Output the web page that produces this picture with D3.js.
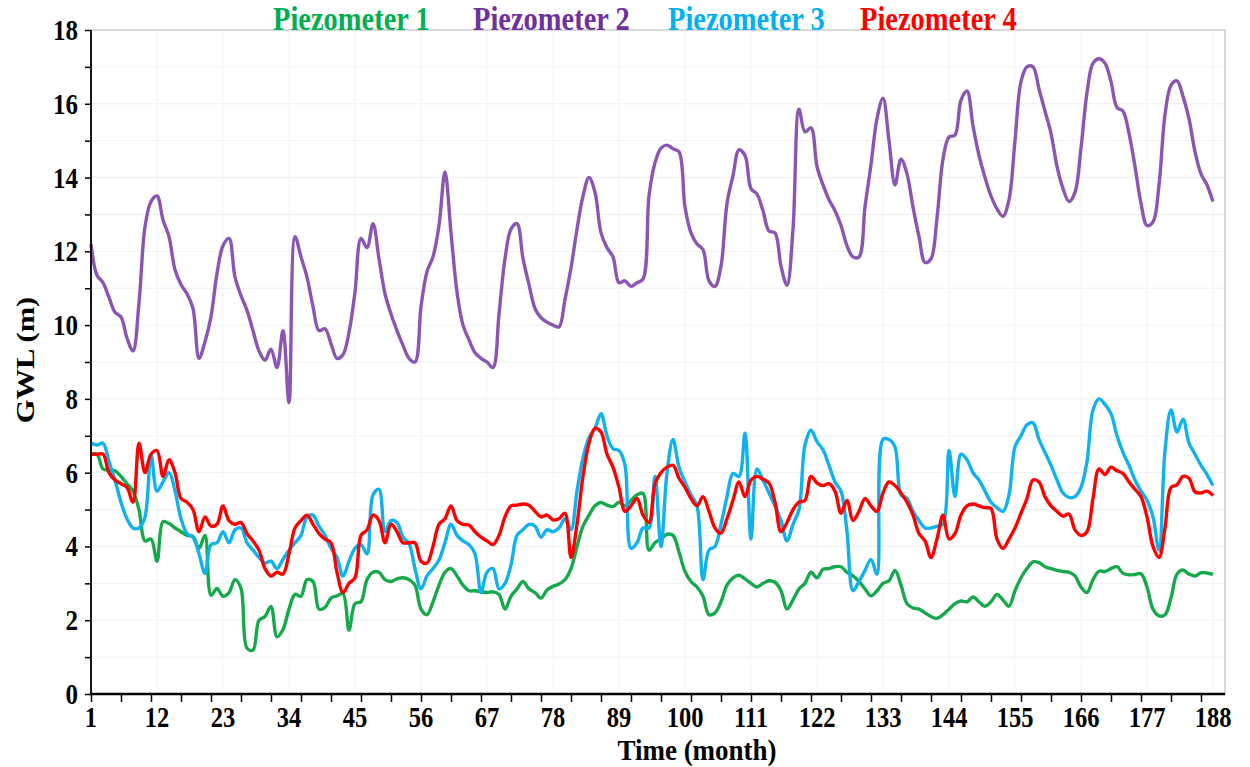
<!DOCTYPE html>
<html>
<head>
<meta charset="utf-8">
<script src="https://cdn.jsdelivr.net/npm/d3@7"></script>
<style>
  body { margin: 0; background: #fff; }
  svg { font-family: "Liberation Serif", "Times New Roman", serif; font-weight: bold; }
</style>
</head>
<body>
<svg id="drawing_region"></svg>
<script>
// months 1..188
const months = d3.range(1, 189);

const piezo1 = [
  6.5, 6.5, 6.1, 6.07, 6.05, 5.9, 5.7, 5.5, 5.0, 4.15,
  4.2, 3.6, 4.67, 4.62, 4.5, 4.4, 4.3, 4.27, 3.95, 4.3,
  2.68, 2.86, 2.65, 2.75, 3.1, 2.86, 1.24, 1.19, 2.0, 2.1,
  2.37, 1.55, 1.75, 2.3, 2.7, 2.65, 3.1, 3.05, 2.3, 2.35,
  2.6, 2.66, 2.72, 1.73, 2.45, 2.5, 3.1, 3.3, 3.3, 3.1,
  3.05, 3.12, 3.15, 3.1, 2.95, 2.3, 2.15, 2.5, 2.95, 3.3,
  3.4, 3.2, 2.95, 2.8, 2.8, 2.77, 2.75, 2.77, 2.7, 2.3,
  2.65, 2.85, 3.05, 2.85, 2.75, 2.6, 2.82, 2.92, 2.98, 3.1,
  3.4, 4.0, 4.55, 4.85, 5.1, 5.19, 5.12, 5.08, 5.2, 5.1,
  5.25, 5.4, 5.44, 3.9, 4.1, 4.2, 4.33, 4.3, 3.85, 3.32,
  3.05, 2.9, 2.65, 2.15, 2.2, 2.5, 2.95, 3.15, 3.22, 3.12,
  3.0, 2.9, 3.0, 3.07, 3.03, 2.8, 2.3, 2.55, 2.85, 3.0,
  3.3, 3.15, 3.38, 3.4, 3.45, 3.45, 3.3, 3.2, 3.05, 2.85,
  2.66, 2.8, 3.0, 3.07, 3.35, 2.95, 2.45, 2.33, 2.3, 2.2,
  2.1, 2.05, 2.15, 2.3, 2.45, 2.52, 2.5, 2.63, 2.5, 2.38,
  2.5, 2.7, 2.55, 2.38, 2.8, 3.15, 3.4, 3.58, 3.56, 3.45,
  3.4, 3.35, 3.32, 3.3, 3.2, 2.9, 2.75, 3.1, 3.33, 3.32,
  3.4, 3.45, 3.27, 3.23, 3.24, 3.26, 2.9, 2.3, 2.12, 2.15,
  2.6, 3.25, 3.36, 3.25, 3.2, 3.29, 3.28, 3.24
];

const piezo2 = [
  12.2, 11.35, 11.15, 10.75, 10.35, 10.22, 9.65, 9.3, 10.6, 12.67,
  13.35, 13.5, 12.85, 12.4, 11.5, 11.1, 10.85, 10.45, 9.1, 9.55,
  10.23, 11.4, 12.15, 12.35, 11.3, 10.8, 10.4, 9.85, 9.3, 9.05,
  9.35, 8.85, 9.85, 7.9, 12.4, 11.85, 11.3, 10.5, 9.85, 9.9,
  9.5, 9.1, 9.2, 9.8, 10.9, 12.35, 12.1, 12.75, 11.8, 10.85,
  10.3, 9.85, 9.45, 9.1, 9.0, 10.5, 11.45, 11.85, 12.7, 14.15,
  12.5, 10.9, 10.0, 9.6, 9.25, 9.1, 9.0, 8.85, 10.3, 11.8,
  12.6, 12.75, 11.8, 11.1, 10.45, 10.2, 10.08, 10.0, 9.95, 10.7,
  11.55, 12.6, 13.5, 14.0, 13.6, 12.5, 12.1, 11.85, 11.15, 11.2,
  11.05, 11.15, 11.25, 13.5, 14.4, 14.8, 14.88, 14.78, 14.7, 13.2,
  12.5, 12.2, 12.05, 11.2, 11.05, 11.6, 13.3, 14.05, 14.75, 14.6,
  13.7, 13.55, 13.1, 12.55, 12.5, 11.6, 11.08, 12.6, 15.85, 15.24,
  15.35, 14.3, 13.8, 13.4, 13.1, 12.7, 12.15, 11.85, 11.85, 13.2,
  14.35, 15.6, 16.15, 15.0, 13.8, 14.5, 14.1, 13.2, 12.4, 11.7,
  11.8, 12.9, 14.5, 15.1, 15.15, 16.1, 16.35, 15.4, 14.6, 14.0,
  13.5, 13.15, 12.95, 13.4, 15.0, 16.6, 17.0, 17.0, 16.4, 15.8,
  15.2, 14.3, 13.7, 13.35, 13.6, 14.8, 16.3, 17.1, 17.22, 17.1,
  16.6, 15.9, 15.8, 15.2, 14.3, 13.3, 12.7, 12.8, 13.8, 15.7,
  16.5, 16.62, 16.2, 15.6, 14.7, 14.1, 13.8, 13.35
];

const piezo3 = [
  6.8, 6.75, 6.8, 6.3, 5.8, 5.2, 4.75, 4.5, 4.5, 4.8,
  6.5, 5.5, 5.75, 6.0, 5.5, 4.75, 4.35, 4.25, 3.8, 3.27,
  4.05, 4.1, 4.4, 4.1, 4.45, 4.5, 4.1, 3.9, 3.7, 3.55,
  3.6, 3.4, 3.65, 3.9, 4.1, 4.3, 4.8, 4.85, 4.55, 4.3,
  3.95, 3.7, 3.2, 3.6, 3.95, 4.05, 3.8, 5.4, 5.55, 4.4,
  4.7, 4.65, 4.25, 4.08, 3.4, 2.85, 3.2, 3.4, 3.63, 4.1,
  4.6, 4.3, 4.15, 4.05, 3.8, 2.75, 3.3, 3.4, 2.85, 3.0,
  3.5, 4.3, 4.45, 4.6, 4.55, 4.25, 4.45, 4.4, 4.5, 4.75,
  4.45, 5.5, 6.4, 6.95, 7.2, 7.6, 7.0, 6.65, 6.6, 6.2,
  3.95, 4.1, 4.5, 4.5, 5.9, 4.0, 6.0, 6.9, 6.15, 5.75,
  5.4, 5.1, 3.1, 3.9, 4.0, 4.6, 5.35, 5.98, 5.9, 7.07,
  4.2, 6.1, 5.8, 5.45, 5.1, 4.7, 4.15, 4.6, 5.0, 6.75,
  7.15, 6.84, 6.62, 6.2, 5.75, 5.5, 4.4, 2.8, 3.05, 3.35,
  3.65, 3.25, 6.9, 6.9, 6.7, 5.4, 5.3, 4.95, 4.7, 4.5,
  4.5, 4.55, 4.6, 6.6, 5.35, 6.5, 6.35, 6.0, 5.8, 5.5,
  5.2, 5.05, 4.95, 5.4, 6.7, 7.0, 7.3, 7.35, 6.9, 6.55,
  6.2, 5.8, 5.45, 5.33, 5.35, 5.6, 6.3, 7.7, 8.0, 7.85,
  7.6, 7.0, 6.55, 6.2, 5.8, 5.5, 5.25, 4.8, 3.9, 6.6,
  7.7, 7.1, 7.45, 6.8, 6.5, 6.2, 5.95, 5.65
];

const piezo4 = [
  6.5, 6.5, 6.5, 6.0, 5.8, 5.7, 5.6, 5.2, 6.8, 6.0,
  6.5, 6.6, 5.9, 6.35, 6.0, 5.3, 5.2, 5.0, 4.4, 4.8,
  4.55, 4.6, 5.1, 4.7, 4.6, 4.65, 4.35, 4.15, 3.9, 3.4,
  3.2, 3.3, 3.25, 3.8, 4.5, 4.7, 4.85, 4.6, 4.35, 4.2,
  4.1, 3.3, 2.75, 3.0, 3.15, 4.3, 4.45, 4.85, 4.7, 4.1,
  4.6, 4.4, 4.1, 4.1, 4.1, 3.6, 3.55, 4.0, 4.6, 4.75,
  5.1, 4.7, 4.6, 4.58, 4.4, 4.25, 4.15, 4.05, 4.3, 4.8,
  5.1, 5.12, 5.15, 5.12, 4.95, 4.8, 4.85, 4.72, 4.75, 4.9,
  3.7, 4.6, 5.9, 6.8, 7.2, 7.1, 6.5, 6.15, 5.6, 4.95,
  5.1, 5.3, 4.85, 4.65, 5.7, 6.0, 6.15, 6.2, 5.85, 5.6,
  5.3, 5.1, 5.35, 4.95, 4.5, 4.36, 4.75, 5.25, 5.75, 5.35,
  5.8, 5.9, 5.82, 5.72, 5.2, 4.4, 4.65, 5.0, 5.2, 5.25,
  5.9, 5.72, 5.65, 5.7, 5.5, 4.9, 5.25, 4.7, 4.95, 5.3,
  5.1, 4.95, 5.45, 5.75, 5.65, 5.45, 5.2, 4.85, 4.35, 4.15,
  3.7, 4.2, 4.85, 4.2, 4.35, 4.85, 5.1, 5.15, 5.1, 5.05,
  5.03, 4.2, 3.95, 4.2, 4.5, 4.9, 5.3, 5.8, 5.75, 5.35,
  5.1, 4.95, 4.82, 4.88, 4.45, 4.3, 4.4, 5.3, 6.1, 5.95,
  6.15, 6.05, 5.98, 5.75, 5.55, 5.35, 4.8, 4.0, 3.7, 4.5,
  5.6, 5.67, 5.9, 5.85, 5.48, 5.45, 5.5, 5.38
];

const seriesNames = ["Piezometer 1", "Piezometer 2", "Piezometer 3", "Piezometer 4"];
const seriesValues = [piezo1, piezo2, piezo3, piezo4];
const lineColors = ["#16a94b", "#8a55b3", "#0fb1ee", "#ff0000"];
const textColors = ["#00b050", "#7030a0", "#00b0f0", "#ff0000"];

const xTickLabels = d3.range(1, 189, 11);   // 1, 12, ... 188
const xMinorTicks = d3.range(1, 190, 5);
const yTickLabels = d3.range(0, 19, 2);
const yMinorTicks = d3.range(0, 19, 1);

const config = {
    width: 1250,
    height: 767,
    plot: { left: 91, right: 1225, top: 30, bottom: 694 },
    stretch: 1.2   // text in the picture is drawn taller than wide
};
const P = config.plot;

const svg = d3.select('#drawing_region')
    .attr('width', config.width)
    .attr('height', config.height);

const xscale = d3.scaleLinear().domain([1, 190]).range([P.left, P.right]);
const yscale = d3.scaleLinear().domain([0, 18]).range([P.bottom, P.top]);

// grid
svg.append('g')
    .selectAll('line')
    .data(yMinorTicks.slice(1))
    .join('line')
    .attr('x1', P.left).attr('x2', P.right)
    .attr('y1', d => yscale(d)).attr('y2', d => yscale(d))
    .attr('stroke', '#efefef').attr('stroke-width', 1);

svg.append('g')
    .selectAll('line')
    .data(xTickLabels.slice(1))
    .join('line')
    .attr('x1', d => xscale(d)).attr('x2', d => xscale(d))
    .attr('y1', P.top).attr('y2', P.bottom)
    .attr('stroke', '#f2f2f2').attr('stroke-width', 1);

// plot area frame
svg.append('rect')
    .attr('x', P.left).attr('y', P.top)
    .attr('width', P.right - P.left).attr('height', P.bottom - P.top)
    .attr('fill', 'none')
    .attr('stroke', '#d9d9d9').attr('stroke-width', 2);

// series
const line = d3.line()
    .x((d, i) => xscale(months[i]))
    .y(d => yscale(d))
    .curve(d3.curveCatmullRom.alpha(0.5));

svg.append('g')
    .selectAll('path')
    .data(seriesValues)
    .join('path')
    .attr('d', d => line(d))
    .attr('fill', 'none')
    .attr('stroke', (d, i) => lineColors[i])
    .attr('stroke-width', 3.4)
    .attr('stroke-linejoin', 'round');

// axes
const xaxis = d3.axisBottom(xscale)
    .tickValues(xMinorTicks)
    .tickSize(8)
    .tickFormat('');
svg.append('g')
    .attr('transform', `translate(0, ${P.bottom})`)
    .call(xaxis)
    .call(g => g.select('.domain').attr('stroke', '#000').attr('stroke-width', 2.5).attr('d', `M${P.left},0H${P.right}`))
    .call(g => g.selectAll('.tick line').attr('stroke', '#000').attr('stroke-width', 1.5));

const yaxis = d3.axisLeft(yscale)
    .tickValues(yMinorTicks)
    .tickSize(6)
    .tickFormat('');
svg.append('g')
    .attr('transform', `translate(${P.left}, 0)`)
    .call(yaxis)
    .call(g => g.select('.domain').attr('stroke', '#000').attr('stroke-width', 1.8).attr('d', `M0,${P.top}V${P.bottom}`))
    .call(g => g.selectAll('.tick line').attr('stroke', '#000').attr('stroke-width', 1.5));

function stretchedText(x, y, str, size, anchor, color, rotate, k) {
    return svg.append('text')
        .attr('transform', `translate(${x}, ${y}) scale(1, ${k || config.stretch})` + (rotate ? ' rotate(-90)' : ''))
        .attr('text-anchor', anchor)
        .attr('font-size', size)
        .attr('fill', color)
        .text(str);
}

// tick labels
xTickLabels.forEach(d => stretchedText(xscale(d), 727, d, 24.5, 'middle', '#000'));
yTickLabels.forEach(d => stretchedText(78, yscale(d) + 10, d, 25, 'end', '#000'));

// axis titles
stretchedText(697, 760, 'Time (month)', 27, 'middle', '#000', false, 1.12);
stretchedText(34, 360, 'GWL (m)', 25.5, 'middle', '#000', true);

// legend
const legendX = [273, 473, 668, 860];
seriesNames.forEach((name, i) => stretchedText(legendX[i], 30, name, 28.5, 'start', textColors[i]));
</script>
</body>
</html>
